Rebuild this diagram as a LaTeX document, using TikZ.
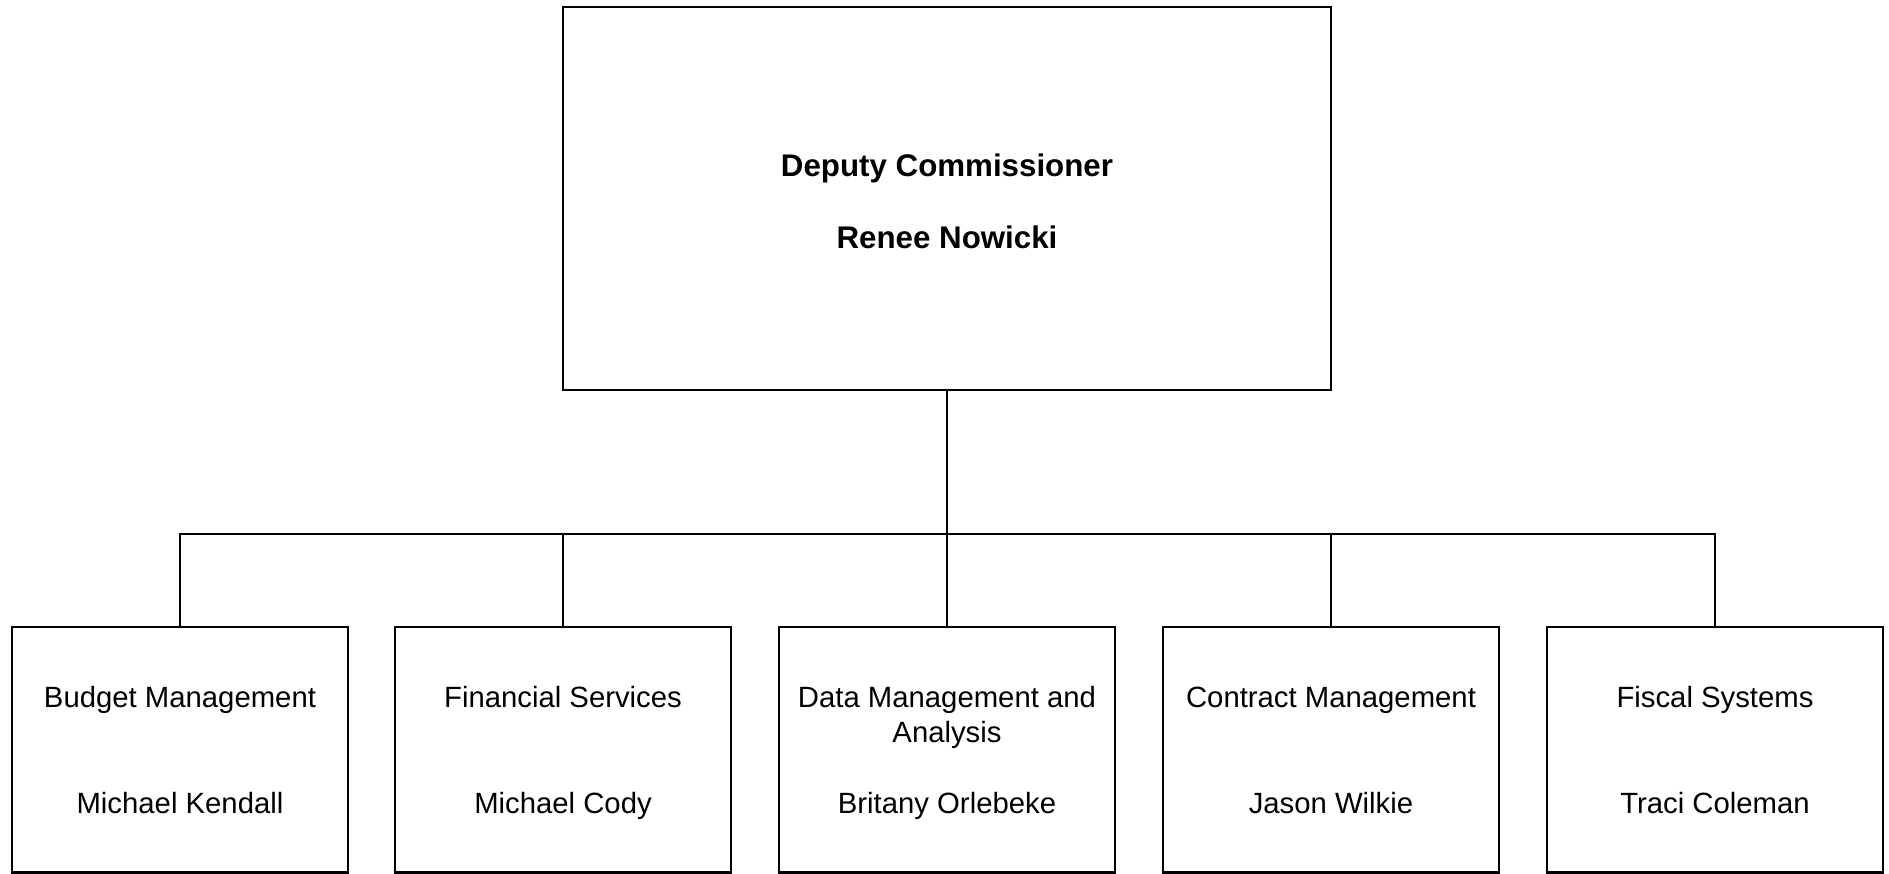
\documentclass[tikz,border=0pt]{standalone}
\usepackage{fontspec}
\setmainfont{Liberation Sans}
\begin{document}
\begin{tikzpicture}[x=1pt,y=1pt,line width=2.2pt,
        boss/.style={draw,minimum width=768pt,minimum height=383pt,inner sep=0pt},
        unit/.style={draw,minimum width=336pt,minimum height=245.5pt,inner sep=0pt},
        txt/.style={anchor=base,align=center,inner sep=0pt,font=\fontsize{29.3}{35}\selectfont},
        btxt/.style={txt,font=\fontsize{31.3}{37}\selectfont\bfseries}]
                \useasboundingbox (0,0) rectangle (1889,-874);
                \node[boss] (dc) at (947,-198.5) {};
                \node[btxt] (dc-t) at ([yshift=-171pt]dc.north) {Deputy Commissioner};
                \node[btxt] (dc-n) at ([yshift=-243pt]dc.north) {Renee Nowicki};
                \node[unit] (bm) at (180,-749.75) {};
                \node[unit] (fs) at (563,-749.75) {};
                \node[unit] (dm) at (947,-749.75) {};
                \node[unit] (cm) at (1331,-749.75) {};
                \node[unit] (fy) at (1715,-749.75) {};
                \node[txt] (bm-t) at ([yshift=-82pt]bm.north) {Budget Management};
                \node[txt] (fs-t) at ([yshift=-82pt]fs.north) {Financial Services};
                \node[txt] (dm-t) at ([yshift=-117pt]dm.north) {Data Management and\\Analysis};
                \node[txt] (cm-t) at ([yshift=-82pt]cm.north) {Contract Management};
                \node[txt] (fy-t) at ([yshift=-82pt]fy.north) {Fiscal Systems};
                \node[txt] (bm-n) at ([yshift=60pt]bm.south) {Michael Kendall};
                \node[txt] (fs-n) at ([yshift=60pt]fs.south) {Michael Cody};
                \node[txt] (dm-n) at ([yshift=60pt]dm.south) {Britany Orlebeke};
                \node[txt] (cm-n) at ([yshift=60pt]cm.south) {Jason Wilkie};
                \node[txt] (fy-n) at ([yshift=60pt]fy.south) {Traci Coleman};
                \coordinate (bus) at (947,-534);
                \draw (dc.south) -- (bus);
                \draw (bus) -| (bm.north);
                \draw (bus) -| (fs.north);
                \draw (bus) -- (dm.north);
                \draw (bus) -| (cm.north);
                \draw (bus) -| (fy.north);
            \end{tikzpicture}
\end{document}
